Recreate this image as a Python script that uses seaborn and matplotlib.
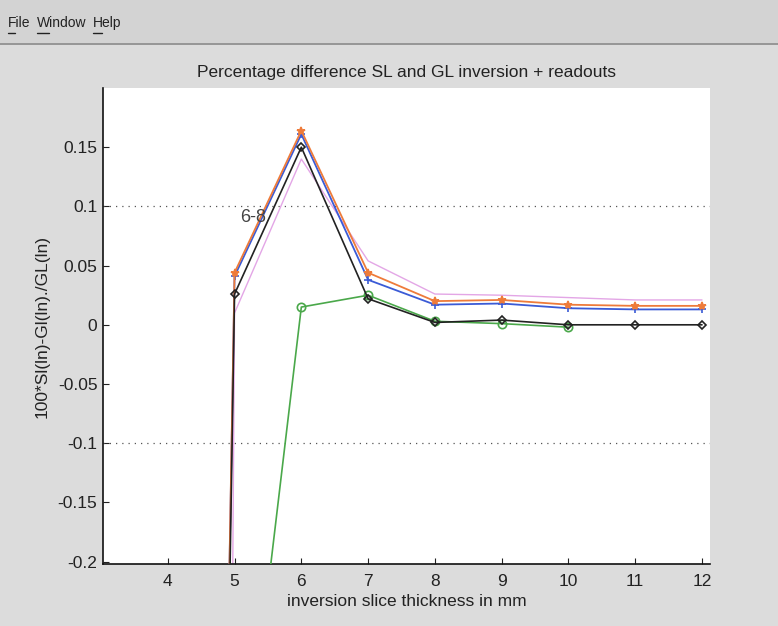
import numpy as np
import pandas as pd
import matplotlib
matplotlib.use("Agg")
import matplotlib.pyplot as plt
import seaborn as sns

# slice thickness (mm) at which each inversion was evaluated
thickness = [4, 5, 6, 7, 8, 9, 10, 11, 12]
thickness_green = [5, 6, 7, 8, 9, 10]

# percentage differences for each readout
pct_pink = [-8.0, 0.010, 0.140, 0.054, 0.026, 0.025, 0.023, 0.021, 0.021]
pct_blue = [-3.2, 0.041, 0.161, 0.038, 0.017, 0.018, 0.014, 0.013, 0.013]
pct_orange = [-3.2, 0.044, 0.164, 0.044, 0.020, 0.021, 0.017, 0.016, 0.016]
pct_black = [-3.4, 0.026, 0.150, 0.022, 0.002, 0.004, 0.000, 0.000, 0.000]
pct_green = [-0.46, 0.015, 0.025, 0.003, 0.001, -0.002]

x_ticks = [4, 5, 6, 7, 8, 9, 10, 11, 12]
y_ticks = [-0.2, -0.15, -0.1, -0.05, 0, 0.05, 0.1, 0.15]
y_tick_labels = ["-0.2", "-0.15", "-0.1", "-0.05", "0", "0.05", "0.1", "0.15"]

sns.set_theme(style="ticks")
plt.rcParams["font.family"] = ["Liberation Sans", "DejaVu Sans"]

bg = "#dcdcdc"
fig = plt.figure(figsize=(7.78, 6.26), dpi=100, facecolor=bg)

# menu bar
fig.patches.append(plt.Rectangle((0, 1 - 43 / 626), 1, 43 / 626, transform=fig.transFigure,
                                 facecolor="#d3d3d3", edgecolor="none", zorder=0))
fig.lines.append(plt.Line2D([0, 1], [1 - 44 / 626, 1 - 44 / 626], transform=fig.transFigure,
                            color="#8a8a8a", lw=1.2))
for label, xpx in [("File", 8), ("Window", 37), ("Help", 93)]:
    fig.text(xpx / 778, 1 - 23 / 626, label, fontsize=10, color="#222222",
             ha="left", va="center")
for xpx, wpx in [(8, 7), (37, 12), (93, 9)]:
    fig.lines.append(plt.Line2D([xpx / 778, (xpx + wpx) / 778], [1 - 33 / 626, 1 - 33 / 626],
                                transform=fig.transFigure, color="#222222", lw=1))

ax = fig.add_axes([103 / 778, 1 - 564 / 626, 607 / 778, 476 / 626])
ax.set_facecolor("white")

series = [
    (thickness, pct_pink, "#e3a6e6", None, 1.0),
    (thickness_green, pct_green, "#4aa84a", "o", 1.2),
    (thickness, pct_blue, "#3b5bd6", "+", 1.3),
    (thickness, pct_orange, "#ee7b3a", "*", 1.3),
    (thickness, pct_black, "#222222", "D", 1.2),
]
for i, (xs, ys, col, mk, lw) in enumerate(series):
    df = pd.DataFrame({"thickness": xs, "pct": ys})
    kw = {}
    if mk is not None:
        kw = dict(marker=mk, markersize=6 if mk != "D" else 4.5,
                  markerfacecolor="none" if mk in ("o", "D") else col,
                  markeredgecolor=col, markeredgewidth=1.2)
    sns.lineplot(data=df, x="thickness", y="pct", ax=ax, color=col, lw=lw,
                 zorder=2 + i, estimator=None, sort=False, **kw)

for yv in (0.1, -0.1):
    ax.axhline(yv, color="#555555", lw=0.9, ls=(0, (1, 4)), zorder=1)

ax.text(5.08, 0.091, "6-8", fontsize=13, color="#444444", ha="left", va="center", zorder=10)

ax.set_xlim(3.03, 12.12)
ax.set_ylim(-0.202, 0.2)
ax.set_xticks(x_ticks)
ax.set_yticks(y_ticks)
ax.set_yticklabels(y_tick_labels)
ax.tick_params(direction="in", length=4, width=0.8, labelsize=12.5, colors="#222222")
ax.tick_params(axis="x", pad=7)
ax.tick_params(axis="y", pad=4)
for side in ("top", "right"):
    ax.spines[side].set_visible(False)
for side in ("left", "bottom"):
    ax.spines[side].set_color("#111111")
    ax.spines[side].set_linewidth(1.2)

ax.set_title("Percentage difference SL and GL inversion + readouts", fontsize=12.5,
             color="#222222", pad=8)
ax.set_xlabel("inversion slice thickness in mm", fontsize=12.5, color="#222222", labelpad=4)
ax.set_ylabel("100*Sl(ln)-Gl(ln)./GL(ln)", fontsize=12.5, color="#222222", labelpad=6)

fig.savefig("out.png", dpi=100, facecolor=bg)
